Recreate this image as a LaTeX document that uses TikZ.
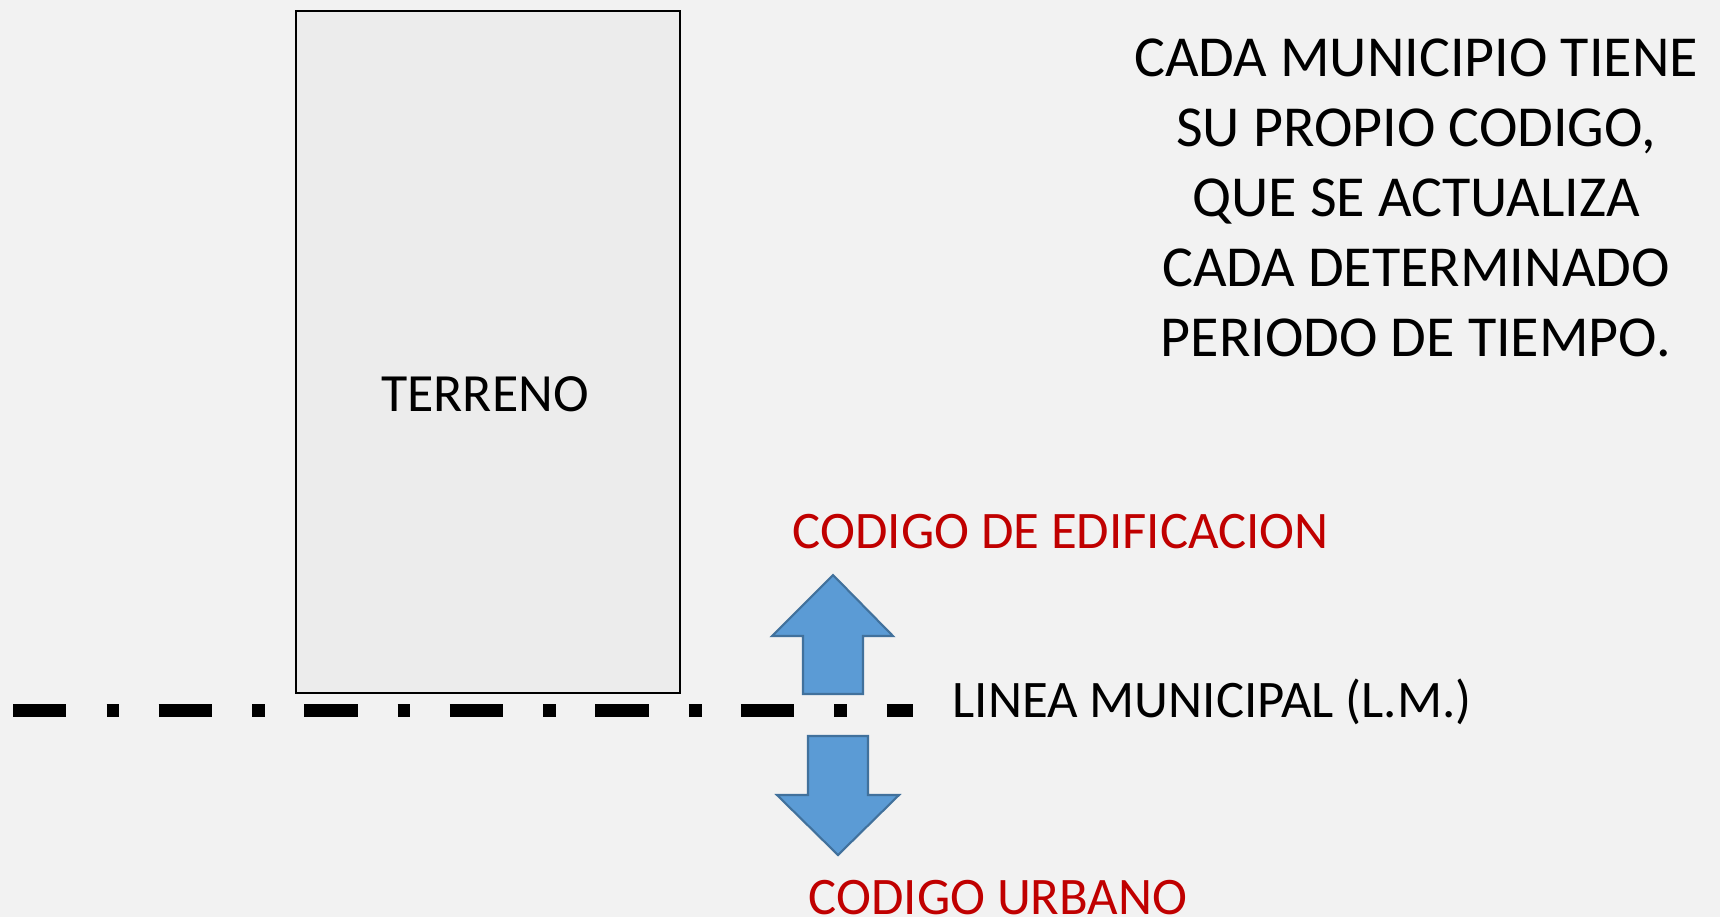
\documentclass[tikz,border=0pt]{standalone}
\usepackage{fontspec}
\setmainfont{Carlito}
\usetikzlibrary{positioning}
\definecolor{fondo}{HTML}{F2F2F2}
\definecolor{lote}{HTML}{ECECEC}
\definecolor{flecha}{HTML}{5B9BD5}
\definecolor{bordeflecha}{HTML}{41719C}
\definecolor{rojo}{HTML}{C00000}

\begin{document}
\begin{tikzpicture}[x=0.01cm,y=-0.01cm,
    texto/.style={inner sep=0pt,font=\fontsize{15}{19.6}\selectfont},
    codigo/.style={texto,text=rojo,anchor=base west},
    bloque/.style={fill=flecha,draw=bordeflecha,line width=0.6pt,line join=miter},
    lm/.style={line width=0.13cm,dash pattern=on 0.533cm off 0.402cm on 0.126cm off 0.394cm}]
      \fill[fondo] (0,0) rectangle (1720,917);
      \useasboundingbox (0,0) rectangle (1720,917);
      \draw[fill=lote,line width=0.7pt] (296,11) rectangle (680,693);
      \node[texto,anchor=base,font=\fontsize{15.3}{19.6}\selectfont] (terreno) at (485,411) {TERRENO};
      \coordinate (lmini) at (13,710);
      \coordinate (lmfin) at (913,710);
      \draw[lm] (lmini) -- (lmfin);
      \node[texto,anchor=base west] (linea) at ([xshift=0.39cm,yshift=-0.07cm]lmfin) {LINEA MUNICIPAL (L.M.)};
      \draw[bloque] (803,694) -- (803,636) -- (772,636) -- (833,575) -- (893,636) -- (863,636) -- (863,694) -- cycle;
      \draw[bloque] (808,736) -- (868,736) -- (868,795) -- (899,795) -- (838,855) -- (777,795) -- (808,795) -- cycle;
      \node[codigo] (edificacion) at (792,548) {CODIGO DE EDIFICACION};
      \node[codigo] (urbano) at (808,914) {CODIGO URBANO};
      \node[texto,align=center,anchor=north,font=\fontsize{16.5}{19.9}\selectfont] (nota) at (1416,38)
        {CADA MUNICIPIO TIENE\\SU PROPIO CODIGO,\\QUE SE ACTUALIZA\\CADA DETERMINADO\\PERIODO DE TIEMPO.};
    \end{tikzpicture}
\end{document}
